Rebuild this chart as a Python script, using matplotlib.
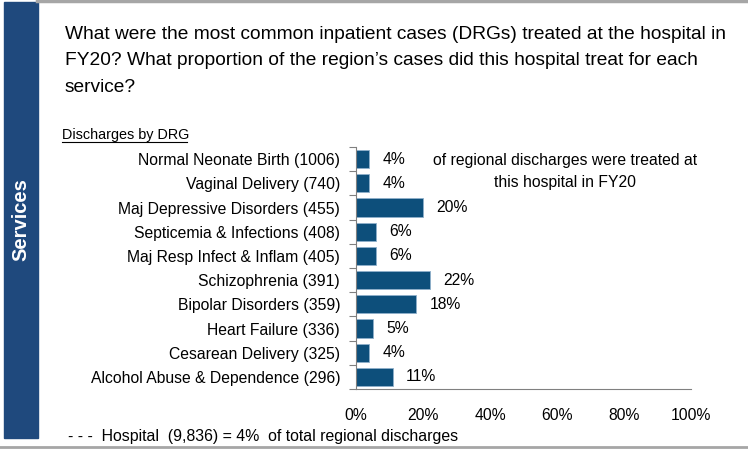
import matplotlib
matplotlib.use("Agg")
import matplotlib.pyplot as plt
from matplotlib.patches import Rectangle
from matplotlib.lines import Line2D

plt.rcParams['font.family'] = ['Liberation Sans', 'DejaVu Sans']

categories = ["Normal Neonate Birth (1006)", "Vaginal Delivery (740)",
              "Maj Depressive Disorders (455)", "Septicemia & Infections (408)",
              "Maj Resp Infect & Inflam (405)", "Schizophrenia (391)",
              "Bipolar Disorders (359)", "Heart Failure (336)",
              "Cesarean Delivery (325)", "Alcohol Abuse & Dependence (296)"]
shares = [4, 4, 20, 6, 6, 22, 18, 5, 4, 11]
xticks = [0, 20, 40, 60, 80, 100]
title_lines = ["What were the most common inpatient cases (DRGs) treated at the hospital in",
               "FY20? What proportion of the region\u2019s cases did this hospital treat for each",
               "service?"]
note_lines = ["of regional discharges were treated at", "this hospital in FY20"]

W, H = 748, 449
fig = plt.figure(figsize=(W/100, H/100), dpi=100)

def fy(py):
    return 1 - py / H

# side band
fig.patches.append(Rectangle((4/W, fy(438)), 34/W, 436/H, transform=fig.transFigure,
                             color='#1F497D', zorder=0))
fig.text(21/W, fy(220), "Services", rotation=90, color='white', fontsize=14.5,
         fontweight='bold', ha='center', va='center')
fig.lines.append(Line2D([37/W, 1], [fy(1), fy(1)], transform=fig.transFigure, color='#A6A6A6', lw=2.5))
fig.lines.append(Line2D([0, 1], [fy(447), fy(447)], transform=fig.transFigure, color='#A6A6A6', lw=2))

for i, line in enumerate(title_lines):
    fig.text(65/W, fy(38.7 + 26.7*i), line, fontsize=13.8, ha='left', va='baseline')

fig.text(62/W, fy(139), "Discharges by DRG", fontsize=10.4, ha='left', va='baseline')
fig.lines.append(Line2D([62/W, 187/W], [fy(141.5), fy(141.5)], transform=fig.transFigure,
                        color='black', lw=0.8))

ax = fig.add_axes([356/W, fy(389), (691-356)/W, (389-147)/H])
y = list(range(len(categories)))
ax.barh(y, shares, height=0.75, color='#0D4F7B', edgecolor='#8FB0CB', linewidth=0.6)
for yi, v in zip(y, shares):
    ax.annotate(f"{v}%", (v, yi), xytext=(9.5, 0), textcoords='offset points',
                ha='left', va='center', fontsize=11.3)
ax.set_xlim(0, 100)
ax.set_ylim(len(categories)-0.5, -0.5)
ax.set_yticks(y)
ax.set_yticklabels(categories, fontsize=11.3)
ax.set_yticks([i+0.5 for i in range(-1, len(categories))], minor=True)
ax.tick_params(axis='y', which='major', length=0, pad=11.5)
ax.tick_params(axis='y', which='minor', length=5, color='#808080', width=0.8)
ax.set_xticks(xticks)
ax.set_xticklabels([f"{t}%" for t in xticks], fontsize=11.3)
ax.tick_params(axis='x', length=0, pad=13.5)
for s in ['top', 'right']:
    ax.spines[s].set_visible(False)
for s in ['left', 'bottom']:
    ax.spines[s].set_color('#808080')
    ax.spines[s].set_linewidth(0.8)
ax.set_facecolor('none')

for i, line in enumerate(note_lines):
    fig.text(565.5/W, fy(165 + 21.7*i), line, fontsize=11.3, ha='center', va='baseline')
fig.text(68/W, fy(437), "- - -  Hospital  (9,836) = 4%  of total regional discharges",
         fontsize=11.4, ha='left', va='center')

fig.savefig("out.png", dpi=100)
